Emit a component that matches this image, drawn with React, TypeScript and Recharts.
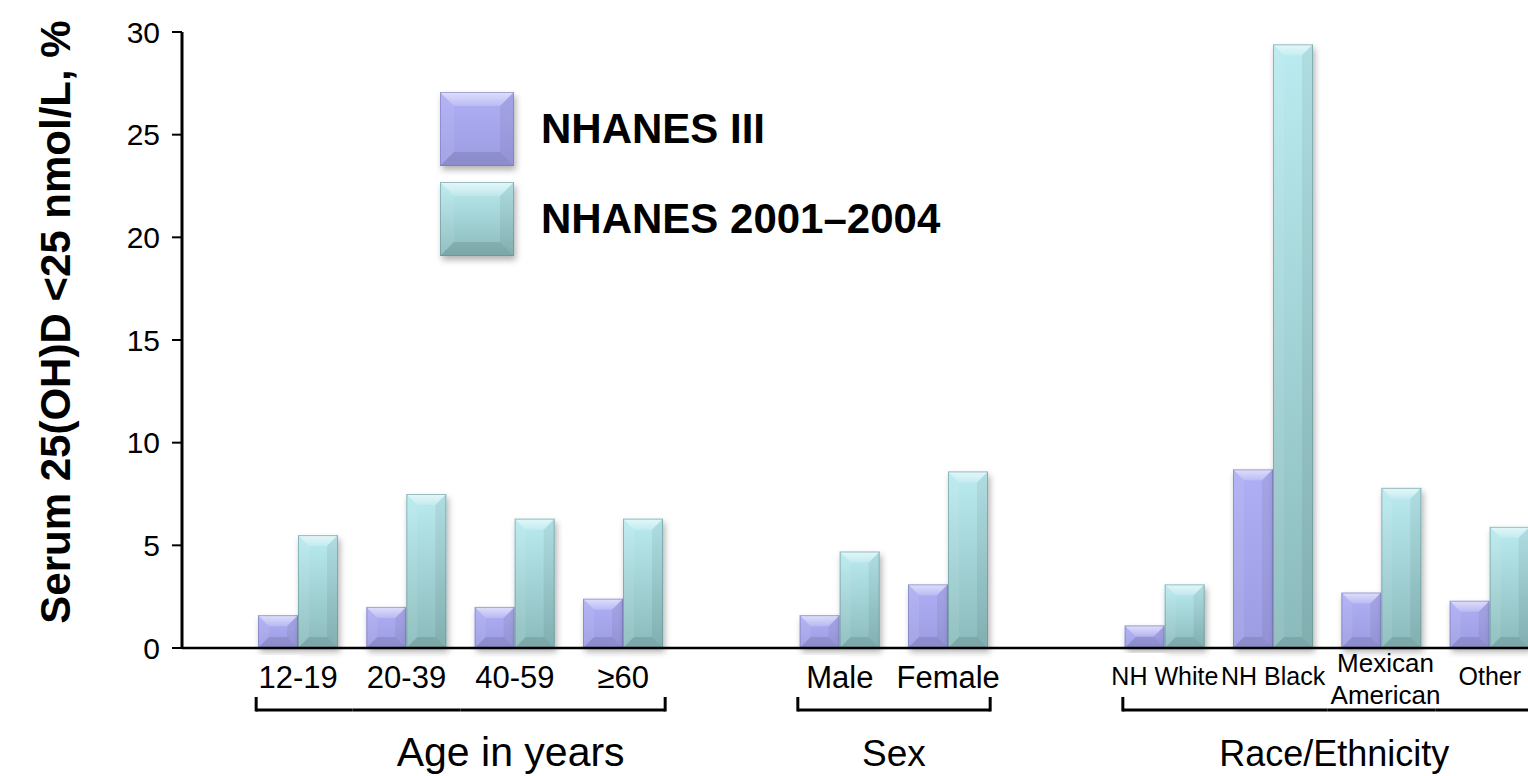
import React from 'react';
import { BarChart, Bar, XAxis, YAxis, Legend } from 'recharts';

// ---------- data ----------
const categories = ['12-19', '20-39', '40-59', '≥60', 'gap1', 'Male', 'Female', 'gap2', 'NH White', 'NH Black', 'Mexican American', 'Other'];
const nhanesIII = [1.6, 2.0, 2.0, 2.4, null, 1.6, 3.1, null, 1.1, 8.7, 2.7, 2.3];
const nhanes0104 = [5.5, 7.5, 6.3, 6.3, null, 4.7, 8.6, null, 3.1, 29.4, 7.8, 5.9];
const groupOf = [0, 0, 0, 0, -1, 1, 1, -1, 2, 2, 2, 2];
const groupNames = ['Age in years', 'Sex', 'Race/Ethnicity'];
const yTicks = [0, 5, 10, 15, 20, 25, 30];
const seriesNames = ['NHANES III', 'NHANES 2001–2004'];

const data = categories.map((name, i) => ({ name, iii: nhanesIII[i], n0104: nhanes0104[i] }));

// ---------- layout / style ----------
const FONT = "'Liberation Sans', Arial, Helvetica, sans-serif";
const W = 1560;
const H = 776;
const Y_AXIS_W = 182;
const PAD_L = 62;
const PAD_R = 16;
const SLOT = (W - Y_AXIS_W - PAD_L - PAD_R) / categories.length;
const groupLabelShift = [50, 0, 7];
const groupFont = [41, 37, 36];

type Pal = { id: string; g1: string; g2: string; edge: string };
const PAL_III: Pal = { id: 'gIII', g1: '#AFAFF5', g2: '#9C9CE3', edge: '#7474B6' };
const PAL_NEW: Pal = { id: 'gNEW', g1: '#BAEBF0', g2: '#8ABABB', edge: '#5E8E90' };

function Gradients({ suffix = '' }: { suffix?: string }) {
  return (
    <defs>
      <linearGradient id={PAL_III.id + suffix} x1="0" y1="0" x2="0" y2="1">
        <stop offset="0%" stopColor={PAL_III.g1} />
        <stop offset="100%" stopColor={PAL_III.g2} />
      </linearGradient>
      <linearGradient id={PAL_NEW.id + suffix} x1="0" y1="0" x2="0" y2="1">
        <stop offset="0%" stopColor={PAL_NEW.g1} />
        <stop offset="100%" stopColor={PAL_NEW.g2} />
      </linearGradient>
      <linearGradient id={'topHi' + suffix} x1="0" y1="0" x2="0" y2="1">
        <stop offset="0%" stopColor="#fff" stopOpacity={0.6} />
        <stop offset="100%" stopColor="#fff" stopOpacity={0.18} />
      </linearGradient>
      <filter id={'shadow' + suffix} x="-30%" y="-10%" width="160%" height="130%">
        <feDropShadow dx="2" dy="4" stdDeviation="3" floodColor="#000" floodOpacity="0.3" />
      </filter>
    </defs>
  );
}

function bevel(x: number, y: number, w: number, h: number, pal: Pal, b: number, suffix = '') {
  const bv = Math.min(b, h / 2);
  const bh = Math.min(b, w / 2);
  const pts = (arr: number[][]) => arr.map((p) => p.join(',')).join(' ');
  return (
    <g filter={`url(#shadow${suffix})`}>
      <rect x={x} y={y} width={w} height={h} fill={`url(#${pal.id}${suffix})`} />
      <polygon points={pts([[x, y], [x + w, y], [x + w - bh, y + bv], [x + bh, y + bv]])} fill={`url(#topHi${suffix})`} />
      <polygon points={pts([[x, y], [x + bh, y + bv], [x + bh, y + h - bv], [x, y + h]])} fill="#fff" fillOpacity={0.08} />
      <polygon points={pts([[x + w, y], [x + w - bh, y + bv], [x + w - bh, y + h - bv], [x + w, y + h]])} fill="#000" fillOpacity={0.06} />
      <polygon points={pts([[x, y + h], [x + bh, y + h - bv], [x + w - bh, y + h - bv], [x + w, y + h]])} fill="#000" fillOpacity={0.1} />
      <rect x={x + 0.5} y={y + 0.5} width={Math.max(0, w - 1)} height={Math.max(0, h - 1)} fill="none" stroke={pal.edge} strokeOpacity={0.55} strokeWidth={1} />
    </g>
  );
}

const makeShape = (pal: Pal) => (props: any) => {
  const { x, y, width, height } = props;
  if (height == null || !(height > 0.5)) return <g />;
  return bevel(x, y, width, height, pal, 11);
};

function XTick(props: any) {
  const { x, y, payload } = props;
  const name = payload.value as string;
  const i = categories.indexOf(name);
  const g = groupOf[i];
  if (g < 0) return <g />;
  const isFirst = groupOf[i - 1] !== g;
  const isLast = groupOf[i + 1] !== g;
  const bracketY = y + 62;
  const x1 = isFirst ? x - 42 : x - SLOT / 2;
  const x2 = isLast ? x + 42 : x + SLOT / 2;
  const elems: React.ReactNode[] = [];
  elems.push(<line key="h" x1={x1} x2={x2} y1={bracketY} y2={bracketY} stroke="#000" strokeWidth={3} />);
  if (isFirst) elems.push(<line key="l" x1={x1} x2={x1} y1={bracketY + 1.5} y2={bracketY - 13} stroke="#000" strokeWidth={3} />);
  if (isLast) elems.push(<line key="r" x1={x2} x2={x2} y1={bracketY + 1.5} y2={bracketY - 13} stroke="#000" strokeWidth={3} />);
  if (isFirst) {
    let j = i;
    while (groupOf[j + 1] === g) j++;
    const cx = x + ((j - i) / 2) * SLOT + groupLabelShift[g];
    elems.push(
      <text key="g" x={cx} y={y + 118} textAnchor="middle" fill="#000" style={{ fontFamily: FONT, fontSize: groupFont[g] }}>
        {groupNames[g]}
      </text>
    );
  }
  if (name === 'Mexican American') {
    elems.push(
      <text key="t" x={x} y={y + 24} textAnchor="middle" fill="#000" style={{ fontFamily: FONT, fontSize: 26 }}>
        <tspan x={x + 4} y={y + 24}>Mexican</tspan>
        <tspan x={x + 4} y={y + 56}>American</tspan>
      </text>
    );
  } else {
    const fs = g === 2 ? 25 : 31;
    const dy = g === 2 ? 37 : 40;
    elems.push(
      <text key="t" x={x} y={y + dy} textAnchor="middle" fill="#000" style={{ fontFamily: FONT, fontSize: fs }}>
        {name}
      </text>
    );
  }
  return <g>{elems}</g>;
}

const renderLegend = () => (
  <div style={{ display: 'flex', flexDirection: 'column', gap: 16 }}>
    {seriesNames.map((n, i) => {
      const pal = i === 0 ? PAL_III : PAL_NEW;
      return (
        <div key={n} style={{ display: 'flex', alignItems: 'center', height: 74 }}>
          <svg width={74} height={74} style={{ overflow: 'visible', display: 'block' }}>
            <Gradients suffix={'L' + i} />
            {bevel(0, 0, 74, 74, pal, 14, 'L' + i)}
          </svg>
          <span style={{ marginLeft: 27, fontFamily: FONT, fontWeight: 'bold', fontSize: 42, color: '#000', whiteSpace: 'nowrap' }}>{n}</span>
        </div>
      );
    })}
  </div>
);

export default function App() {
  return (
    <div style={{ position: 'absolute', left: 0, top: 0, width: 1528, height: 776, overflow: 'hidden', background: '#fff' }}>
      <BarChart width={W} height={H} data={data} margin={{ top: 32, right: 0, bottom: 0, left: 0 }} barGap={0} barSize={40}>
        <Gradients />
        <XAxis
          dataKey="name"
          interval={0}
          height={128}
          padding={{ left: PAD_L, right: PAD_R }}
          tickLine={false}
          tickSize={0}
          tickMargin={0}
          axisLine={{ stroke: '#000', strokeWidth: 2.5 }}
          tick={<XTick />}
        />
        <YAxis
          width={Y_AXIS_W}
          domain={[0, 30]}
          ticks={yTicks}
          interval={0}
          tickSize={10}
          tickMargin={12}
          axisLine={{ stroke: '#000', strokeWidth: 3 }}
          tickLine={{ stroke: '#000', strokeWidth: 2 }}
          tick={{ fill: '#000', fontSize: 30, fontFamily: FONT }}
        />
        <Legend
          layout="vertical"
          align="center"
          verticalAlign="middle"
          content={renderLegend}
          wrapperStyle={{ left: 440, top: 92, width: 'auto', height: 'auto' }}
        />
        <Bar dataKey="iii" name={seriesNames[0]} isAnimationActive={false} shape={makeShape(PAL_III)} />
        <Bar dataKey="n0104" name={seriesNames[1]} isAnimationActive={false} shape={makeShape(PAL_NEW)} />
        <text
          transform="translate(70,322) rotate(-90)"
          textAnchor="middle"
          fill="#000"
          style={{ fontFamily: FONT, fontWeight: 'bold', fontSize: 42 }}
        >
          Serum 25(OH)D &lt;25 nmol/L, %
        </text>
      </BarChart>
    </div>
  );
}
